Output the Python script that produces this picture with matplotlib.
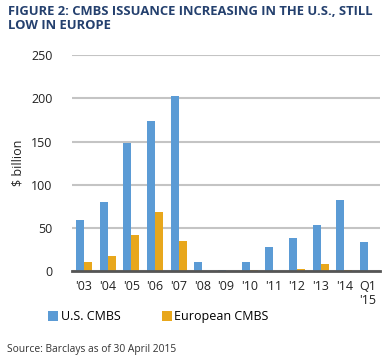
import matplotlib

matplotlib.use("Agg")
import matplotlib.pyplot as plt
import numpy as np

years = ["'03", "'04", "'05", "'06", "'07", "'08", "'09", "'10", "'11", "'12", "'13", "'14", "Q1\n'15"]
us_cmbs = [59, 80, 148, 174, 203, 11, 2, 11, 28, 39, 54, 82, 34]
eu_cmbs = [10.5, 17.5, 42, 68.5, 35.5, 0, 0, 2, 0, 3, 8.5, 2, 0]

BLUE = "#5B9BD5"
GOLD = "#E8A71C"
NAVY = "#24406E"

plt.rcParams["font.family"] = ["Open Sans", "DejaVu Sans"]

fig = plt.figure(figsize=(3.92, 3.61), dpi=100)
ax = fig.add_axes([0.184, 0.248, 0.785, 0.600])

x = np.arange(len(years))
w = 0.34
ax.bar(x - w / 2, us_cmbs, w, color=BLUE, label="U.S. CMBS", zorder=3)
ax.bar(x + w / 2, eu_cmbs, w, color=GOLD, label="European CMBS", zorder=3)

ax.set_xlim(-0.5, len(years) - 0.5)
ax.set_ylim(0, 250)
ax.set_yticks(range(0, 251, 50))
ax.set_xticks(x)
ax.set_xticklabels(years, fontsize=9, color="#222222", linespacing=1.15)
ax.tick_params(axis="y", labelsize=9, colors="#222222", length=0, pad=14)
ax.tick_params(axis="x", length=0, pad=6)
ax.yaxis.grid(True, color="#C4C4C4", linewidth=1.5, zorder=0)
for s in ["top", "right", "left"]:
    ax.spines[s].set_visible(False)
ax.spines["bottom"].set_color("#555555")
ax.spines["bottom"].set_linewidth(2)
ax.spines["bottom"].set_zorder(4)
ax.set_ylabel("$ billion", fontsize=9, color="#222222", labelpad=5)

ax.legend(loc="upper left", bbox_to_anchor=(-0.078, -0.18), ncol=2,
          frameon=False, fontsize=9, handlelength=0.8, handleheight=0.8,
          handletextpad=0.2, columnspacing=3.3, borderaxespad=0, borderpad=0)

fig.text(0.02, 0.985, "FIGURE 2: CMBS ISSUANCE INCREASING IN THE U.S., STILL\nLOW IN EUROPE",
         fontsize=9.4, fontweight="bold", color=NAVY, va="top", ha="left", linespacing=1.05)
fig.text(0.018, 0.033, "Source: Barclays as of 30 April 2015", fontsize=7.4, color="#333333",
         ha="left", va="center")

fig.savefig("out.png", dpi=100)
